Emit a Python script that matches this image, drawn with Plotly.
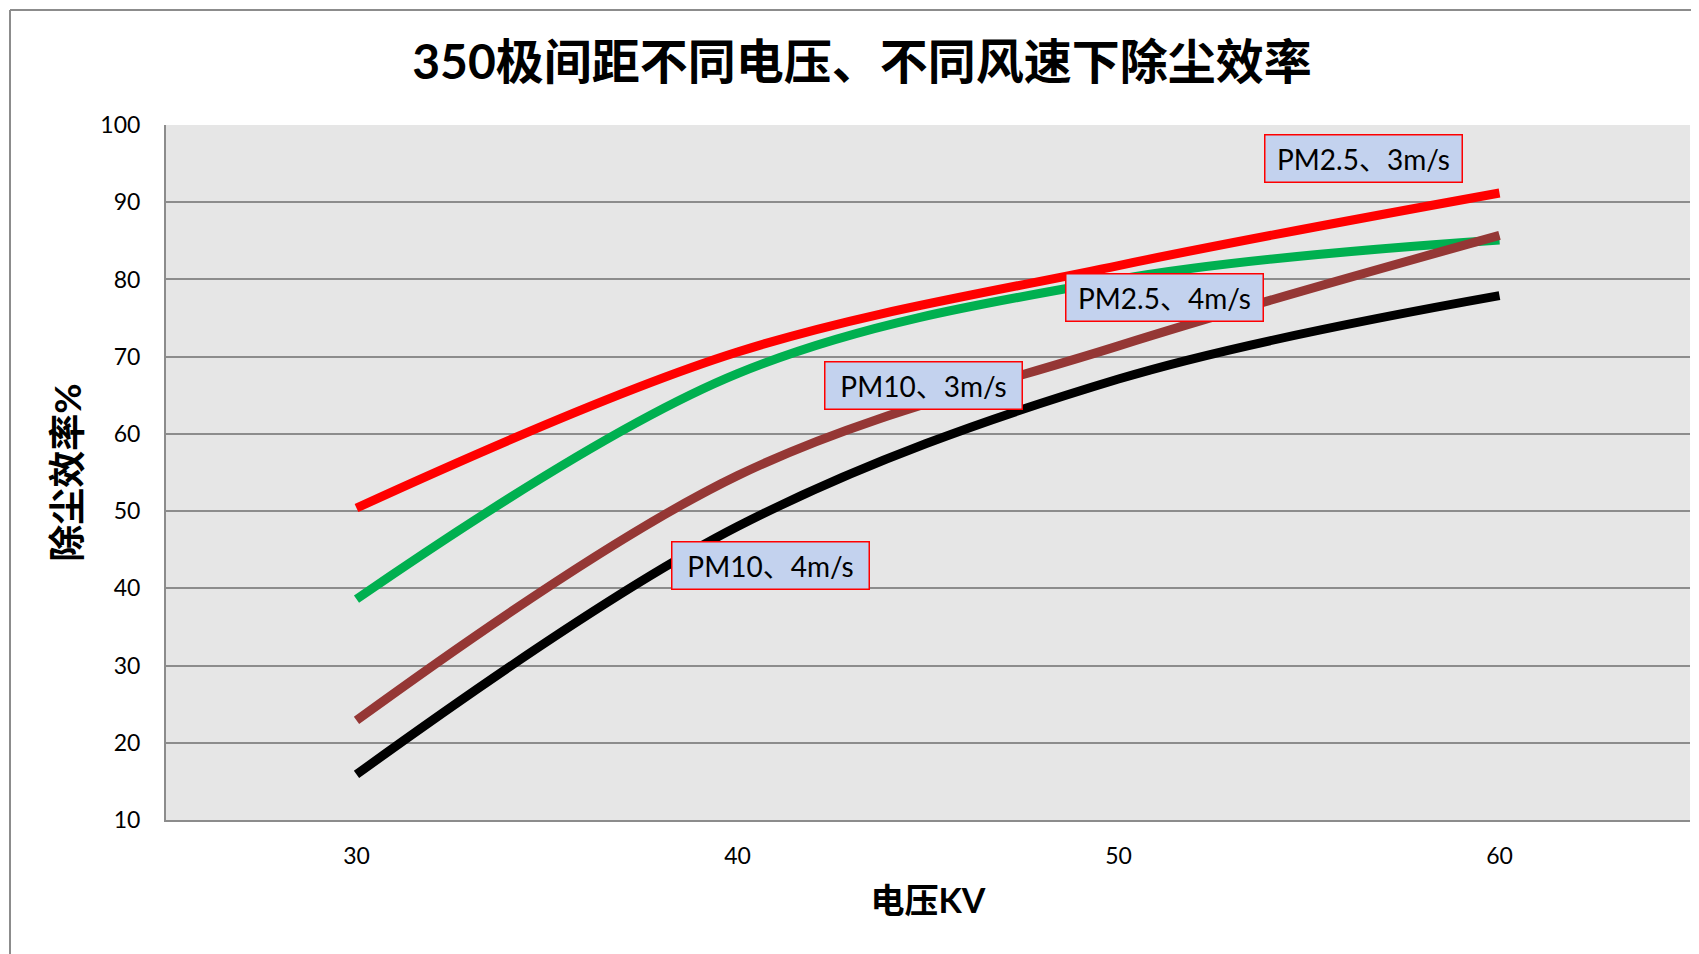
import plotly.graph_objects as go

# ---- data ----
voltage = [30, 40, 50, 60]
pm25_3 = [50.4, 70.6, 81.8, 91.2]
pm25_4 = [38.6, 67.8, 80.0, 85.1]
pm10_3 = [22.9, 54.6, 71.4, 85.7]
pm10_4 = [15.9, 48.0, 67.1, 77.9]

series_names = ["PM2.5、4m/s", "PM10、3m/s", "PM2.5、3m/s", "PM10、4m/s"]
series_values = [pm25_4, pm10_3, pm25_3, pm10_4]
series_colors = ["#00b050", "#953735", "#ff0000", "#000000"]

# label positions (data coords)
label_texts = ["PM2.5、3m/s", "PM2.5、4m/s", "PM10、3m/s", "PM10、4m/s"]
label_x = [56.42, 51.2, 44.88, 40.87]
label_y = [95.6, 77.7, 66.3, 42.9]

title_text = "350极间距不同电压、不同风速下除尘效率"
x_title = "电压KV"
y_title = "除尘效率%"
x_ticks = [30, 40, 50, 60]
y_ticks = [10, 20, 30, 40, 50, 60, 70, 80, 90, 100]

# page has an 8px body margin; figure sized to fit the 1699x954 window
W, H = 1691, 946
ML, MR, MT, MB = 158, 9, 117, 134
PW, PH = W - ML - MR, H - MT - MB
FONT = "Lato, 'Noto Sans CJK SC', sans-serif"
GRID = "#8c8c8c"

fig = go.Figure()
for name, vals, col in zip(series_names, series_values, series_colors):
    fig.add_trace(go.Scatter(
        x=voltage, y=vals, mode="lines", name=name,
        line=dict(color=col, width=9, shape="spline", smoothing=1.0),
        showlegend=False, hoverinfo="x+y+name",
    ))

for t, x, y in zip(label_texts, label_x, label_y):
    fig.add_annotation(
        x=x, y=y, xref="x", yref="y", text=t, showarrow=False,
        font=dict(family=FONT, size=28, color="#000000"),
        bgcolor="#c3d2ee", bordercolor="#ff0000", borderwidth=1.5,
        borderpad=6, width=184, height=34,
    )

def px_to_paper_x(px):
    return (px - ML) / PW

def px_to_paper_y(py):
    return (H - MB - py) / PH

# outer chart-area border (left and top)
fig.add_shape(type="line", xref="paper", yref="paper",
              x0=px_to_paper_x(2), x1=px_to_paper_x(2),
              y0=px_to_paper_y(2), y1=px_to_paper_y(H + 5),
              line=dict(color=GRID, width=2))
fig.add_shape(type="line", xref="paper", yref="paper",
              x0=px_to_paper_x(2), x1=px_to_paper_x(W + 5),
              y0=px_to_paper_y(2), y1=px_to_paper_y(2),
              line=dict(color=GRID, width=2))

fig.update_layout(
    width=W, height=H,
    margin=dict(l=ML, r=MR, t=MT, b=MB),
    paper_bgcolor="#ffffff",
    plot_bgcolor="#e6e6e6",
    title=dict(text="<b>" + title_text + "</b>", x=854 / W, xanchor="center",
               y=1 - 54 / H, yanchor="middle",
               font=dict(family=FONT, size=48, color="#000000")),
    font=dict(family=FONT, color="#000000"),
)
fig.update_xaxes(
    range=[25, 65], tickvals=x_ticks, showgrid=False, zeroline=False,
    showline=True, linecolor=GRID, linewidth=2, ticks="",
    tickfont=dict(family=FONT, size=23, color="#000000"), ticklabelstandoff=14,
    title=dict(text="<b>" + x_title + "</b>", font=dict(family=FONT, size=34, color="#000000"), standoff=22),
)
fig.update_yaxes(
    range=[10, 100], tickvals=y_ticks, showgrid=True, gridcolor=GRID, gridwidth=2,
    zeroline=False, showline=True, linecolor=GRID, linewidth=2, ticks="",
    tickfont=dict(family=FONT, size=23, color="#000000"), ticklabelstandoff=19,
    title=dict(text="<b>" + y_title + "</b>", font=dict(family=FONT, size=37, color="#000000"), standoff=7),
)

fig.write_html("out.html")
